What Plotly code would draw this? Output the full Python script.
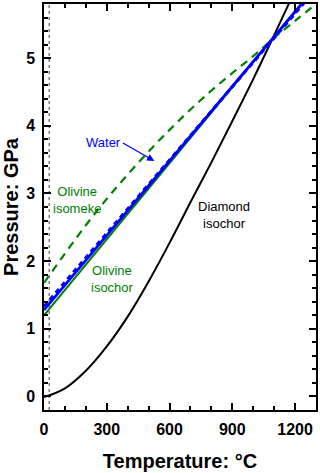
import plotly.graph_objects as go

# temperatures (°C) and pressures (GPa)
temp_diamond = [0, 100, 200, 300, 400, 500, 600, 700, 800, 900, 1000, 1100, 1200]
p_diamond = [-0.01, 0.12, 0.38, 0.74, 1.18, 1.70, 2.27, 2.87, 3.46, 4.07, 4.69, 5.34, 6.00]

temp_olivine = [0, 1300]
p_olivine_isochor = [1.20, 6.07]

temp_isomeke = [0, 100, 200, 300, 400, 500, 600, 700, 800, 900, 1000, 1100, 1200, 1300]
p_olivine_isomeke = [1.68, 2.11, 2.53, 2.92, 3.28, 3.62, 3.94, 4.24, 4.52, 4.78, 5.03, 5.30, 5.55, 5.80]

temp_water = [0, 1300]
p_water = [1.28, 6.05]
p_water_dashed = [1.33, 6.02]

room_temp = [25, 25]
room_p = [-0.2, 5.8]

green = "#008000"
blue = "#0000ff"
font = "Liberation Sans, Arial, sans-serif"

fig = go.Figure()
fig.add_trace(go.Scatter(x=room_temp, y=room_p, mode="lines",
                         line=dict(color="#808080", width=1.5, dash="dot")))
fig.add_trace(go.Scatter(x=temp_diamond, y=p_diamond, mode="lines",
                         line=dict(color="black", width=2, shape="spline")))
fig.add_trace(go.Scatter(x=temp_olivine, y=p_olivine_isochor, mode="lines",
                         line=dict(color=green, width=2)))
fig.add_trace(go.Scatter(x=temp_isomeke, y=p_olivine_isomeke, mode="lines",
                         line=dict(color=green, width=2.2, dash="8px,6px", shape="spline")))
fig.add_trace(go.Scatter(x=temp_water, y=p_water, mode="lines",
                         line=dict(color=blue, width=2.8)))
fig.add_trace(go.Scatter(x=temp_water, y=p_water_dashed, mode="lines",
                         line=dict(color=blue, width=3, dash="5px,4px")))

# labels
fig.add_annotation(x=160, y=2.90, text="Olivine<br>isomeke", showarrow=False,
                   font=dict(color=green, size=13, family=font))
fig.add_annotation(x=328, y=1.73, text="Olivine<br>isochor", showarrow=False,
                   font=dict(color=green, size=13, family=font))
fig.add_annotation(x=860, y=2.68, text="Diamond<br>isochor", showarrow=False,
                   font=dict(color="black", size=13, family=font))
fig.add_annotation(x=285, y=3.76, text="Water", showarrow=False,
                   font=dict(color=blue, size=13, family=font))
fig.add_annotation(x=527, y=3.48, ax=370, ay=3.76, axref="x", ayref="y", text="",
                   showarrow=True, arrowhead=2, arrowsize=1.2, arrowwidth=1.2, arrowcolor=blue)

axis_common = dict(showline=True, linecolor="black", linewidth=1.5, mirror="ticks",
                   ticks="inside", ticklen=7, tickwidth=1.5, tickcolor="black",
                   showgrid=False, zeroline=False, automargin=False,
                   tickfont=dict(size=16, family=font, color="black", weight="bold"))

fig.update_layout(
    width=320, height=473,
    margin=dict(l=44, r=4, t=4, b=63),
    plot_bgcolor="white", paper_bgcolor="white",
    showlegend=False,
    xaxis=dict(range=[0, 1300], dtick=300, tick0=0, ticklabelstandoff=4,
               minor=dict(dtick=100, ticks="inside", ticklen=4, tickwidth=1.5, tickcolor="black"),
               title=dict(text="Temperature: °C", standoff=17,
                          font=dict(size=20, family=font, color="black", weight="bold")),
               **axis_common),
    yaxis=dict(range=[-0.2, 5.8], dtick=1, tick0=0, ticklabelstandoff=4,
               minor=dict(dtick=0.2, ticks="inside", ticklen=4, tickwidth=1.5, tickcolor="black"),
               title=dict(text="Pressure: GPa", standoff=6,
                          font=dict(size=20, family=font, color="black", weight="bold")),
               **axis_common),
)

fig.write_html("out.html", config={"displayModeBar": False},
               post_script="document.body.style.margin='0px';")
